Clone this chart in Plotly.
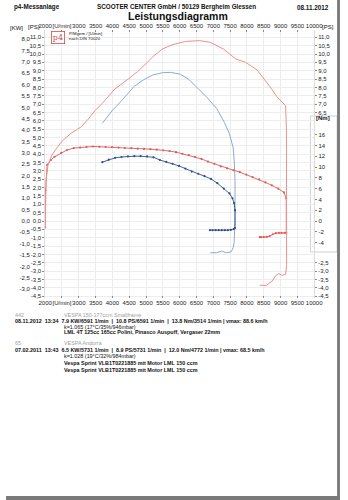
import plotly.graph_objects as go

W, H = 348, 500
ML, MR, MT, MB = 0, 0, 30, 202
X0, X1 = 40, 322          # plot area in pixels

# ---------------- data ----------------
rpm_ticks = [2000, 2500, 3000, 3500, 4000, 4500, 5000, 5500, 6000, 6500,
             7000, 7500, 8000, 8500, 9000, 9500, 10000]
rpm_ticktext = ["2000", "[U/min]", "3000", "3500", "4000", "4500", "5000", "5500",
                "6000", "6500", "7000", "7500", "8000", "8500", "9000", "9500", "10000"]
ps_ticks = [v / 2 for v in range(22, -10, -1)]       # 11,0 ... -4,5
kw_ticks = [v / 2 for v in range(16, -7, -1)]        # 8,0 ... -3,0
nm_ticks = [16, 14, 12, 10, 8, 6, 4, 2, 0, -2, -4]
ps_right_ticks = [11.0, 10.5, 10.0, 9.5, 9.0, 8.5, 8.0, 7.5, 7.0, 6.5,
                  -2.5, -3.0, -3.5, -4.0, -4.5]

# test 1 (08.11.2012, red)
red_pw_rpm = [2000, 2005, 2030, 2085, 2200, 2340, 2510, 2770, 3080, 3280, 3480, 3700,
              4070, 4470, 4750, 5040, 5180, 5490, 5770, 6170, 6590, 6910, 7300, 7670,
              7960, 8300, 8520, 8720, 8890, 9090, 9150, 9175, 9180, 9180, 9150, 9040,
              8950, 8860, 8750, 8580, 8380]
red_pw_ps = [-0.4, 1.3, 2.5, 3.35, 3.95, 4.35, 4.8, 5.25, 5.65, 6.1, 6.6, 7.05,
             7.9, 8.5, 8.95, 9.5, 9.8, 10.3, 10.55, 10.75, 10.8, 10.7, 10.3, 9.7,
             9.5, 9.05, 8.5, 7.95, 7.45, 7.05, 6.9, 5.4, 1.3, -2.6, -3.2, -3.25,
             -3.15, -3.25, -3.6, -3.85, -3.85]
red_tq_rpm = [2000, 2010, 2060, 2170, 2280, 2480, 2650, 2850, 3040, 3230, 3420, 3610,
              3800, 3990, 4180, 4370, 4560, 4750, 4940, 5130, 5320, 5510, 5700, 5890,
              6080, 6270, 6460, 6650, 6840, 7030, 7220, 7410, 7600, 7790, 7980, 8170,
              8360, 8550, 8740, 8930, 9100, 9170, 9170, 9120, 9030, 8950, 8860, 8770,
              8680, 8590, 8500, 8420, 8380]
red_tq_nm = [-1.2, 5.7, 10.4, 11.3, 11.9, 12.6, 13.15, 13.5, 13.6, 13.7, 13.8, 13.75,
             13.7, 13.7, 13.6, 13.5, 13.5, 13.4, 13.35, 13.3, 13.2, 13.1, 12.95, 12.75,
             12.45, 12.2, 11.85, 11.5, 11.0, 10.6, 10.1, 9.75, 9.4, 9.05, 8.6, 8.15,
             7.7, 7.15, 6.6, 6.0, 5.3, 4.2, -2.2, -2.2, -2.2, -2.2, -2.25, -2.45,
             -2.8, -2.95, -2.95, -3.0, -3.0]

# test 2 (07.02.2011, blue)
blue_pw_rpm = [3700, 3990, 4270, 4640, 4920, 5210, 5490, 5730, 6030, 6255, 6540, 6820,
               7105, 7330, 7475, 7590, 7620, 7645, 7645, 7620, 7590, 7530, 7390, 7250,
               7105, 6910]
blue_pw_ps = [5.85, 6.6, 7.2, 8.05, 8.45, 8.75, 8.88, 8.9, 8.78, 8.5, 7.95, 7.38,
              6.72, 5.9, 5.25, 4.4, 3.65, 2.45, 0.05, -1.3, -1.6, -1.85, -1.9, -1.8,
              -1.9, -1.9]
blue_tq_rpm = [3700, 3890, 4080, 4270, 4460, 4650, 4840, 5030, 5220, 5410, 5600, 5790,
               5980, 6170, 6360, 6550, 6740, 6930, 7120, 7310, 7480, 7570, 7620, 7645,
               7645, 7610, 7520, 7430, 7340, 7250, 7160, 7070, 6980, 6900]
blue_tq_nm = [10.9, 11.35, 11.7, 11.85, 11.95, 12.0, 12.0, 11.95, 11.8, 11.3, 10.95, 10.6,
              10.2, 9.7, 9.15, 8.75, 8.3, 7.8, 7.0, 6.0, 5.1, 4.2, 3.3, 2.0,
              -1.3, -1.5, -1.65, -1.7, -1.7, -1.7, -1.7, -1.7, -1.7, -1.7]

# ---------------- scales ----------------
PS0_PX, PS_PX = 221.0, 16.7     # pixel of 0 PS, pixels per PS
NM_PX = 5.4                      # pixels per Nm
Y_TOP, Y_BOT = MT, H - MB
PS_RANGE = [(PS0_PX - Y_BOT) / PS_PX, (PS0_PX - Y_TOP) / PS_PX]
NM_RANGE = [(PS0_PX - Y_BOT) / NM_PX, (PS0_PX - Y_TOP) / NM_PX]
KW_RANGE = [v / 1.36 for v in PS_RANGE]


def px(x):
    return (x - ML) / (W - ML - MR)


def py(y):
    return (H - MB - y) / (H - MT - MB)


def comma(v):
    return f"{v:.1f}".replace(".", ",")


FONT = "Liberation Sans, Arial, sans-serif"
RED_PW, RED_TQ = "#ec8f8f", "#e05a5a"
BLUE_PW, BLUE_TQ = "#8faad0", "#2c4f86"

fig = go.Figure()
fig.add_trace(go.Scatter(x=red_pw_rpm, y=red_pw_ps, mode="lines", xaxis="x2", yaxis="y",
                         line=dict(color=RED_PW, width=1), showlegend=False, hoverinfo="skip"))
fig.add_trace(go.Scatter(x=blue_pw_rpm, y=blue_pw_ps, mode="lines", xaxis="x", yaxis="y",
                         line=dict(color=BLUE_PW, width=1), showlegend=False, hoverinfo="skip"))
fig.add_trace(go.Scatter(x=red_tq_rpm, y=red_tq_nm, mode="lines+markers", xaxis="x", yaxis="y2",
                         line=dict(color=RED_TQ, width=0.9), marker=dict(size=2.2, color=RED_TQ),
                         showlegend=False, hoverinfo="skip"))
fig.add_trace(go.Scatter(x=blue_tq_rpm, y=blue_tq_nm, mode="lines+markers", xaxis="x", yaxis="y2",
                         line=dict(color=BLUE_TQ, width=0.9), marker=dict(size=2.2, color=BLUE_TQ),
                         showlegend=False, hoverinfo="skip"))
fig.add_trace(go.Scatter(x=[], y=[], xaxis="x", yaxis="y3", showlegend=False))
fig.add_trace(go.Scatter(x=[], y=[], xaxis="x", yaxis="y4", showlegend=False))

tickfont = dict(family=FONT, size=6, color="#222")
common_x = dict(range=[2000, 10000], tickvals=rpm_ticks, ticktext=rpm_ticktext,
                tickfont=tickfont, tickangle=0, ticks="inside", ticklen=2, tickcolor="#888",
                zeroline=False)
fig.update_layout(
    width=W, height=H, margin=dict(l=ML, r=MR, t=MT, b=MB, pad=0),
    paper_bgcolor="white", plot_bgcolor="white",
    font=dict(family=FONT, size=6, color="#222"),
    xaxis=dict(domain=[px(X0), px(X1)], anchor="y", side="bottom", showgrid=True,
               gridcolor="#ededed", gridwidth=0.6, showline=False, **common_x),
    xaxis2=dict(overlaying="x", anchor="y", side="top", matches="x", showgrid=False,
                **common_x),
    yaxis=dict(range=PS_RANGE, anchor="x", side="left", tickvals=ps_ticks,
               ticktext=[comma(v) for v in ps_ticks], tickfont=tickfont, ticks="outside",
               ticklen=2, tickcolor="#888", showgrid=True, gridcolor="#ededed",
               gridwidth=0.6, zeroline=False, showline=True, linecolor="#ddd", linewidth=0.6),
    yaxis2=dict(range=NM_RANGE, overlaying="y", anchor="x", side="right", tickvals=nm_ticks,
                ticktext=[str(v) for v in nm_ticks], tickfont=tickfont, ticks="outside",
                ticklen=2, tickcolor="#888", showgrid=False, zeroline=False),
    yaxis3=dict(range=KW_RANGE, overlaying="y", anchor="free", position=px(24), side="left",
                tickvals=kw_ticks, ticktext=[comma(v) for v in kw_ticks], tickfont=tickfont,
                ticks="", showgrid=False, zeroline=False, showline=False),
    yaxis4=dict(range=PS_RANGE, overlaying="y", anchor="x", side="right",
                tickvals=ps_right_ticks, ticktext=[comma(v) for v in ps_right_ticks],
                tickfont=tickfont, ticks="outside", ticklen=2, tickcolor="#888",
                showgrid=False, zeroline=False, showline=True, linecolor="#ddd", linewidth=0.6),
)

shapes = [
    # Nm label box
    dict(type="rect", xref="paper", yref="paper", x0=px(318), x1=px(346), y0=py(252), y1=py(116),
         line=dict(color="#bbbbbb", width=0.7), fillcolor="white", layer="below"),
    # scan edges
    dict(type="rect", xref="paper", yref="paper", x0=px(346), x1=px(349), y0=py(501), y1=py(-1),
         line=dict(width=0), fillcolor="#7a7a7a", layer="above"),
    dict(type="rect", xref="paper", yref="paper", x0=px(-1), x1=px(349), y0=py(501), y1=py(496),
         line=dict(width=0), fillcolor="#7a7a7a", layer="above"),
]


def txt(x, y, s, size=6, color="#111", anchor="left", bold=False, **kw):
    return dict(x=px(x), y=py(y), xref="paper", yref="paper", text=f"<b>{s}</b>" if bold else s,
                showarrow=False, xanchor=anchor, yanchor="middle",
                font=dict(family=FONT, size=size, color=color), **kw)


ann = [
    txt(5, 7, "p4-Messanlage", 6.3, bold=True),
    txt(178, 7, "SCOOTER CENTER GmbH / 50129 Bergheim Glessen", 6.3, anchor="center", bold=True),
    txt(340, 7, "08.11.2012", 6.3, anchor="right", bold=True),
    txt(179, 16, "Leistungsdiagramm", 10.5, anchor="center", bold=True),
    txt(10, 28, "[KW]", 6, anchor="center"),
    txt(28, 27, "[PS]", 6, anchor="center"),
    txt(336, 27, "[PS]", 6, anchor="center"),
    txt(331, 118, "[Nm]", 6, anchor="center", bold=True),
    dict(x=px(53), y=py(37), xref="paper", yref="paper", text="p4", showarrow=False,
         font=dict(family="DejaVu Serif, serif", size=8, color="#d94a4a"),
         bordercolor="#d94a4a", borderwidth=0.8, borderpad=1, bgcolor="white",
         xanchor="center", yanchor="middle"),
    txt(63, 33.5, "P/Mgem / [U/min]", 4.3),
    txt(63, 38.5, "nach DIN 70020", 4.3),
    # test descriptions
    txt(6, 315, "442", 5.4, color="#a0a0a0"),
    txt(58, 315, "VESPA 150-177ccm Smallframe", 5.4, color="#a0a0a0"),
    txt(6, 321, "08.11.2012  13:34  7.9 KW/6591 1/min  |  10.8 PS/6591 1/min  |  13.8 Nm/3514 1/min | vmax: 88.6 km/h",
        5.4, bold=True),
    txt(58, 326.5, "k=1.065 (17°C/35%/946mbar)", 5.4),
    txt(58, 332, "LML 4T 125cc 165cc Polini, Pinasco Auspuff, Vergaser 22mm", 5.4, bold=True),
    txt(6, 343, "65", 5.4, color="#a0a0a0"),
    txt(58, 343, "VESPA Andorra", 5.4, color="#a0a0a0"),
    txt(6, 350, "07.02.2011  13:43  6.5 KW/5731 1/min  |  8.9 PS/5731 1/min  |  12.0 Nm/4772 1/min | vmax: 68.5 km/h",
        5.4, bold=True),
    txt(58, 356, "k=1.028 (19°C/32%/984mbar)", 5.4),
    txt(58, 363, "Vespa Sprint VLB1T0221885 mit Motor LML 150 ccm", 5.4, bold=True),
    txt(58, 370, "Vespa Sprint VLB1T0221885 mit Motor LML 150 ccm", 5.4, bold=True),
]
fig.update_layout(shapes=shapes, annotations=ann)
fig.write_html("out.html")
